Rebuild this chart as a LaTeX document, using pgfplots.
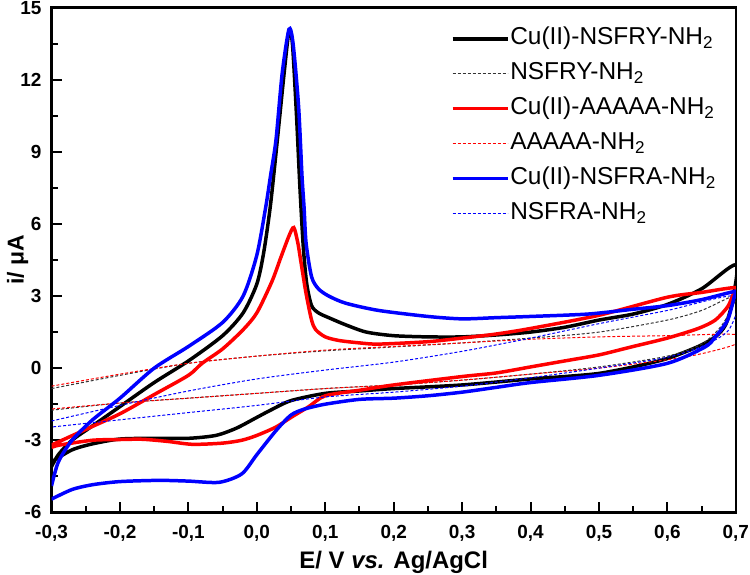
\documentclass[border=0pt]{standalone}
\usepackage{pgfplots}
\pgfplotsset{compat=1.18}
\usepackage{fontspec}
\setmainfont{Liberation Sans}
\begin{document}
\begin{tikzpicture}
\begin{axis}[
  scale only axis,
  width=686bp, height=506bp,
  xmin=-0.3, xmax=0.7, ymin=-6, ymax=15,
  xtick={-0.3,-0.2,...,0.71},
  ytick={-6,-3,...,15},
  minor x tick num=1, minor y tick num=1,
  xtick pos=bottom, ytick pos=left,
  tick align=inside,
  major tick length=10bp, minor tick length=6bp,
  every tick/.style={line width=2bp, black},
  axis line style={line width=2.5bp},
  /pgf/number format/assume math mode=true,
  xticklabel style={font=\fontsize{19bp}{22bp}\selectfont\bfseries, inner sep=1bp, yshift=-12bp, /pgf/number format/.cd, use comma, fixed, fixed zerofill, precision=1},
  yticklabel style={font=\fontsize{19bp}{22bp}\selectfont\bfseries, inner sep=1bp, xshift=-9bp},
  xlabel={E/ V \textit{vs.} Ag/AgCl},
  ylabel={i/ μA},
  xlabel style={font=\fontsize{24bp}{28bp}\selectfont\bfseries, at={(rel axis cs:0.5,0)}, anchor=center, yshift=-50bp, inner sep=1bp},
  ylabel style={font=\fontsize{23bp}{28bp}\selectfont\bfseries, at={(rel axis cs:0,0.5)}, anchor=center, yshift=34bp, inner sep=7bp},
  legend cell align=left,
  legend style={draw=none, fill=none, at={(rel axis cs:0.579,0.968)}, anchor=north west,
    font=\fontsize{24.5bp}{30bp}\selectfont, row sep=9bp,
    nodes={inner sep=1bp, text height=18bp, text depth=6bp}},
  legend image code/.code={\draw[#1] (0bp,0bp) -- (55bp,0bp);},
  every axis plot/.append style={smooth, tension=0.45},
]
% Cu(II)-NSFRY-NH2
\addplot[black, line width=3.5bp] coordinates {
(-0.3,-4.1) (-0.29,-3.6) (-0.27,-3.0) (-0.24,-2.4) (-0.2,-1.6) (-0.15,-0.6) (-0.1,0.3) (-0.05,1.35) (-0.02,2.3) (0.0,3.5) (0.01,4.8) (0.02,6.8) (0.03,9.5) (0.04,12.3) (0.047,14.0) (0.052,13.5) (0.058,10.5) (0.063,7.5) (0.068,5.0) (0.073,3.5) (0.08,2.6) (0.09,2.3) (0.105,2.1) (0.13,1.8) (0.16,1.5) (0.2,1.35) (0.25,1.3) (0.3,1.3) (0.35,1.38) (0.4,1.5) (0.45,1.7) (0.5,2.0) (0.55,2.25) (0.6,2.65) (0.65,3.3) (0.7,4.3)
(0.695,2.8) (0.685,1.8) (0.67,1.3) (0.645,0.9) (0.6,0.4) (0.55,0.05) (0.5,-0.22) (0.45,-0.35) (0.4,-0.45) (0.3,-0.7) (0.2,-0.85) (0.15,-0.95) (0.1,-1.05) (0.05,-1.35) (0.02,-1.75) (0.0,-2.05) (-0.03,-2.5) (-0.06,-2.8) (-0.1,-2.92) (-0.15,-2.92) (-0.2,-2.95) (-0.24,-3.15) (-0.27,-3.4) (-0.3,-3.9)
};
\addlegendentry{Cu(II)-NSFRY-NH\textsubscript{2}}
% NSFRY-NH2
\addplot[black!80, line width=1bp, dash pattern=on 3bp off 2bp] coordinates {
(-0.3,-0.85) (-0.2,-0.3) (-0.1,0.2) (0,0.5) (0.1,0.72) (0.2,0.88) (0.3,1.05) (0.4,1.25) (0.5,1.5) (0.6,2.0) (0.65,2.4) (0.7,3.0)
(0.68,1.8) (0.65,1.0) (0.6,0.5) (0.5,0.05) (0.4,-0.25) (0.3,-0.5) (0.2,-0.7) (0.1,-0.85) (0,-1.05) (-0.1,-1.25) (-0.2,-1.45) (-0.3,-1.75)
};
\addlegendentry{NSFRY-NH\textsubscript{2}}
% Cu(II)-AAAAA-NH2
\addplot[red, line width=3.5bp] coordinates {
(-0.3,-3.2) (-0.25,-2.55) (-0.2,-1.9) (-0.15,-1.1) (-0.1,-0.3) (-0.08,0.2) (-0.05,0.8) (-0.02,1.6) (0.0,2.3) (0.022,3.6) (0.035,4.6) (0.047,5.5) (0.054,5.85) (0.06,5.2) (0.064,4.5) (0.072,3.1) (0.08,2.0) (0.086,1.6) (0.1,1.3) (0.12,1.15) (0.15,1.05) (0.178,1.0) (0.25,1.1) (0.3,1.25) (0.35,1.42) (0.4,1.65) (0.5,2.2) (0.6,2.95) (0.65,3.15) (0.7,3.35)
(0.695,3.0) (0.688,2.55) (0.67,2.0) (0.645,1.65) (0.6,1.25) (0.547,0.88) (0.5,0.55) (0.45,0.3) (0.4,0.05) (0.35,-0.2) (0.3,-0.35) (0.2,-0.7) (0.15,-0.92) (0.1,-1.15) (0.076,-1.6) (0.05,-2.05) (0.028,-2.45) (0.0,-2.8) (-0.022,-3.0) (-0.05,-3.12) (-0.094,-3.17) (-0.13,-3.05) (-0.167,-2.96) (-0.2,-2.97) (-0.24,-3.0) (-0.288,-3.2) (-0.3,-3.3)
};
\addlegendentry{Cu(II)-AAAAA-NH\textsubscript{2}}
% AAAAA-NH2
\addplot[red, line width=1bp, dash pattern=on 3bp off 2bp] coordinates {
(-0.3,-0.75) (-0.2,-0.25) (-0.1,0.2) (0,0.5) (0.1,0.75) (0.2,0.9) (0.3,1.05) (0.4,1.2) (0.5,1.3) (0.6,1.35) (0.7,1.4)
(0.7,1.0) (0.65,0.6) (0.6,0.35) (0.5,0.0) (0.4,-0.25) (0.3,-0.5) (0.2,-0.7) (0.1,-0.85) (0,-1.05) (-0.1,-1.25) (-0.2,-1.45) (-0.3,-1.7)
};
\addlegendentry{AAAAA-NH\textsubscript{2}}
% Cu(II)-NSFRA-NH2
\addplot[blue, line width=3.5bp] coordinates {
(-0.3,-4.9) (-0.29,-3.9) (-0.27,-3.0) (-0.24,-2.15) (-0.2,-1.25) (-0.15,0.0) (-0.1,0.9) (-0.05,1.9) (-0.02,3.0) (0.0,4.7) (0.013,6.7) (0.02,8.0) (0.028,9.5) (0.037,12.25) (0.047,14.1) (0.053,13.5) (0.061,10.9) (0.066,8.0) (0.069,6.7) (0.072,5.2) (0.08,3.8) (0.09,3.3) (0.105,3.0) (0.13,2.7) (0.178,2.4) (0.25,2.15) (0.3,2.05) (0.35,2.1) (0.4,2.15) (0.484,2.25) (0.55,2.45) (0.6,2.6) (0.65,2.85) (0.7,3.2)
(0.698,3.0) (0.688,2.0) (0.67,1.3) (0.655,0.88) (0.6,0.2) (0.5,-0.3) (0.4,-0.6) (0.35,-0.8) (0.3,-1.0) (0.25,-1.15) (0.2,-1.25) (0.15,-1.3) (0.1,-1.5) (0.07,-1.7) (0.05,-1.95) (0.028,-2.6) (0.0,-3.6) (-0.022,-4.4) (-0.055,-4.75) (-0.1,-4.7) (-0.143,-4.67) (-0.2,-4.72) (-0.24,-4.85) (-0.27,-5.05) (-0.3,-5.45)
};
\addlegendentry{Cu(II)-NSFRA-NH\textsubscript{2}}
% NSFRA-NH2
\addplot[blue, line width=1bp, dash pattern=on 3bp off 2bp] coordinates {
(-0.3,-2.2) (-0.2,-1.55) (-0.1,-0.95) (0,-0.45) (0.1,-0.08) (0.2,0.25) (0.3,0.7) (0.4,1.25) (0.5,1.85) (0.6,2.4) (0.7,3.0)
(0.69,1.6) (0.65,0.9) (0.6,0.45) (0.5,0.0) (0.4,-0.4) (0.3,-0.75) (0.2,-1.0) (0.1,-1.2) (0,-1.55) (-0.1,-1.85) (-0.2,-2.15) (-0.3,-2.45)
};
\addlegendentry{NSFRA-NH\textsubscript{2}}
\end{axis}
\end{tikzpicture}
\end{document}
